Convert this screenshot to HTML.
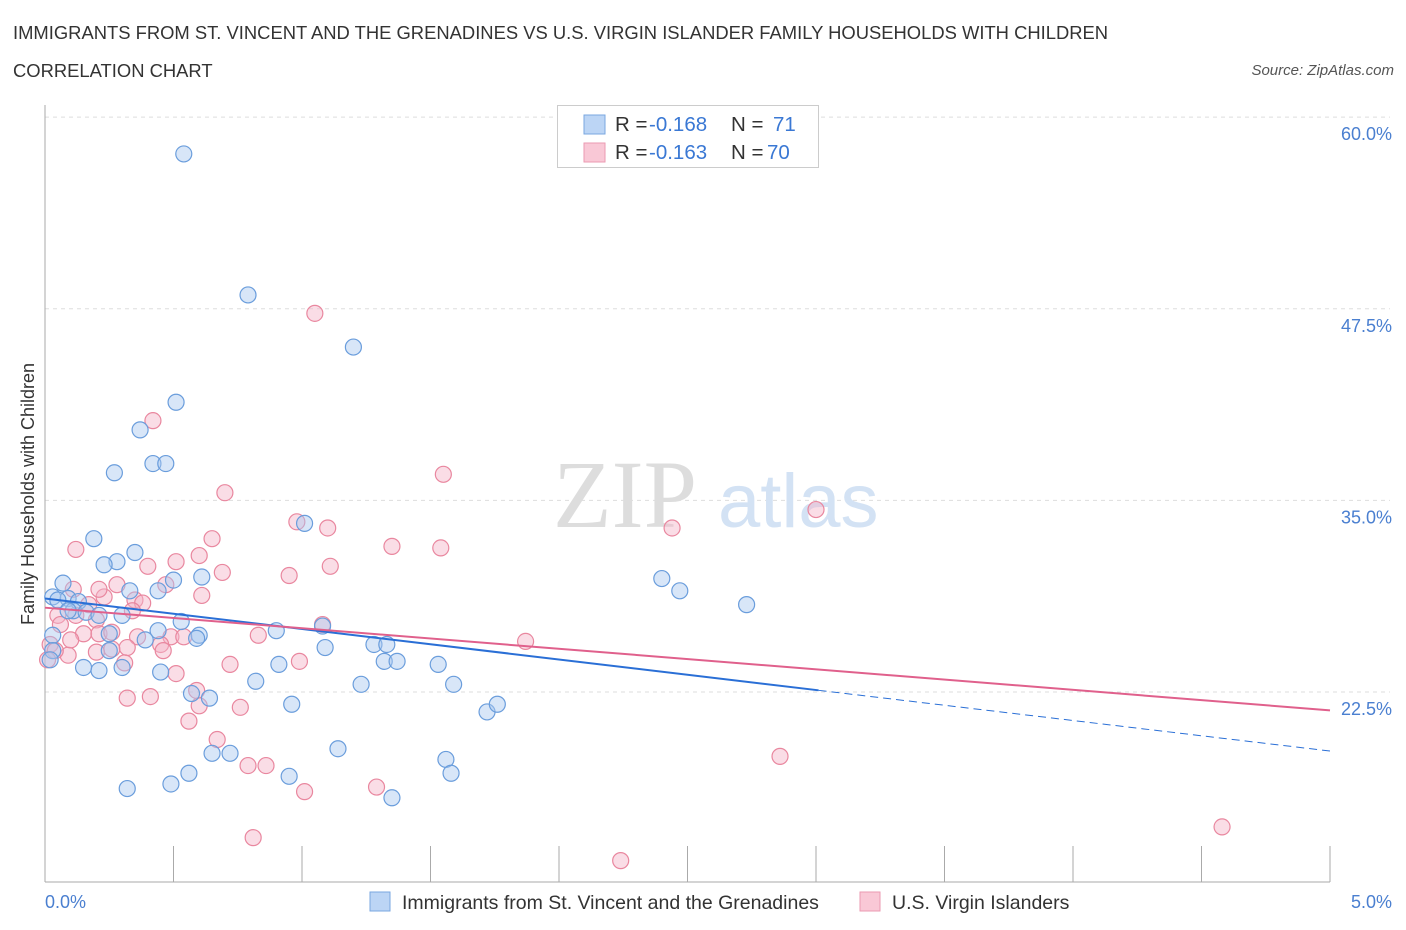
<!DOCTYPE html>
<html><head><meta charset="utf-8">
<style>
body{margin:0;background:#fff;font-family:"Liberation Sans",sans-serif;}
#wrap{position:relative;width:1406px;height:930px;overflow:hidden;}
.t{position:absolute;white-space:nowrap;}
</style></head>
<body>
<div id="wrap">
<div class="t" style="left:13px;top:22px;font-size:18.4px;color:#333;">IMMIGRANTS FROM ST. VINCENT AND THE GRENADINES VS U.S. VIRGIN ISLANDER FAMILY HOUSEHOLDS WITH CHILDREN</div>
<div class="t" style="left:13px;top:60px;font-size:18.4px;color:#333;">CORRELATION CHART</div>
<div class="t" style="right:12px;top:62px;font-size:15px;color:#555;font-style:italic;">Source: ZipAtlas.com</div>
<svg id="chart" width="1406" height="930" style="position:absolute;left:0;top:0"></svg>
</div>
<script>
const blueX=[0.54,0.79,1.20,0.51,0.37,0.27,0.42,0.47,0.19,0.35,0.28,0.23,0.07,0.50,0.61,0.33,0.44,1.01,0.03,0.09,0.13,0.11,0.16,0.30,0.53,0.60,0.44,0.25,0.39,0.59,0.90,1.08,1.09,1.28,1.33,1.32,1.37,1.53,0.91,0.30,0.45,0.21,0.15,0.82,1.23,1.59,0.64,0.57,0.96,1.72,1.76,2.40,2.47,2.73,0.72,0.65,1.14,1.56,1.58,0.56,0.95,1.35,0.32,0.49,0.03,0.03,0.02,0.05,0.25,0.09,0.21];
const blueY=[57.6,48.4,45.0,41.4,39.6,36.8,37.4,37.4,32.5,31.6,31.0,30.8,29.6,29.8,30.0,29.1,29.1,33.5,28.7,28.6,28.4,27.8,27.7,27.5,27.1,26.2,26.5,26.3,25.9,26.0,26.5,26.8,25.4,25.6,25.6,24.5,24.5,24.3,24.3,24.1,23.8,23.9,24.1,23.2,23.0,23.0,22.1,22.4,21.7,21.2,21.7,29.9,29.1,28.2,18.5,18.5,18.8,18.1,17.2,17.2,17.0,15.6,16.2,16.5,26.2,25.2,24.6,28.5,25.2,27.8,27.5];
const pinkX=[1.05,0.42,1.55,0.70,0.98,1.10,1.35,1.54,2.44,3.00,0.12,0.65,0.60,0.51,0.40,1.11,0.69,0.95,0.28,0.47,0.11,0.23,0.35,0.38,0.61,0.34,0.05,0.12,0.20,1.08,0.15,0.21,0.26,0.36,0.49,0.54,0.83,1.87,0.02,0.45,0.32,0.26,0.46,0.20,0.09,0.31,0.99,0.72,0.51,0.59,0.60,0.76,0.32,0.41,0.56,0.67,0.79,0.86,1.01,1.29,2.86,0.81,2.24,4.58,0.04,0.01,0.06,0.17,0.10,0.21];
const pinkY=[47.2,40.2,36.7,35.5,33.6,33.2,32.0,31.9,33.2,34.4,31.8,32.5,31.4,31.0,30.7,30.7,30.3,30.1,29.5,29.5,29.2,28.7,28.5,28.3,28.8,27.8,27.5,27.5,27.2,26.9,26.3,26.3,26.4,26.1,26.1,26.1,26.2,25.8,25.6,25.6,25.4,25.3,25.2,25.1,24.9,24.4,24.5,24.3,23.7,22.6,21.6,21.5,22.1,22.2,20.6,19.4,17.7,17.7,16.0,16.3,18.3,13.0,11.5,13.7,25.2,24.6,26.9,28.2,25.9,29.2];
const yTicks=[22.5,35.0,47.5,60.0];
const yTickLabels=["22.5%","35.0%","47.5%","60.0%"];
const blueTrend=[28.6,-1.99];
const pinkTrend=[28.0,-1.34];

const NS="http://www.w3.org/2000/svg";
const svg=document.getElementById('chart');
const X0=45,X1=1330,YB=692,YPER=15.33;
const sx=v=>X0+v*(X1-X0)/5;
const sy=v=>YB-(v-22.5)*YPER;
function mk(tag,attrs,parent){const e=document.createElementNS(NS,tag);for(const k in attrs)e.setAttribute(k,attrs[k]);(parent||svg).appendChild(e);return e;}
const FF='Liberation Sans, sans-serif';

yTicks.forEach((v,i)=>{
  const g=mk('line',{x1:X0,x2:1390,y1:sy(v),y2:sy(v),stroke:'#ddd','stroke-dasharray':'4,4'});
  
  
  const t=mk('text',{x:1392,y:sy(v)+23,'text-anchor':'end','font-size':18,fill:'#4a7fd0','font-family':FF});
  t.textContent=yTickLabels[i];
  
  
});
const ax=mk('line',{x1:X0,x2:X0,y1:105,y2:882,stroke:'#aaa'});


const axx=mk('line',{x1:X0,x2:X1,y1:882,y2:882,stroke:'#aaa'});


for(let i=0;i<=10;i++){
  const tk=mk('line',{x1:sx(i*0.5),x2:sx(i*0.5),y1:846,y2:882,stroke:'#aaa'});
  
  
}
const wm=mk('text',{x:553,y:527,'font-size':96,fill:'#ddd','font-family':'Liberation Serif, serif'});
wm.textContent='ZIP';


const wm2=mk('text',{x:718,y:527,'font-size':76,fill:'#d3e2f4','font-family':FF});
wm2.textContent='atlas';



function pts(xs,ys,fill,stroke,name){
  xs.forEach((x,i)=>{
    const c=mk('circle',{cx:sx(x),cy:sy(ys[i]),r:8,fill:fill,'fill-opacity':0.45,stroke:stroke,'stroke-width':1.2});
    
    
  });
}
pts(pinkX,pinkY,'#f5b3c7','#e9879f','pink-point');
pts(blueX,blueY,'#a9c8f0','#6a9ddc','blue-point');

const bl=mk('line',{x1:sx(0),y1:sy(blueTrend[0]),x2:sx(3.01),y2:sy(blueTrend[0]+blueTrend[1]*3.01),stroke:'#2a6fd6','stroke-width':2});


const bd=mk('line',{x1:sx(3.01),y1:sy(blueTrend[0]+blueTrend[1]*3.01),x2:sx(5),y2:sy(blueTrend[0]+blueTrend[1]*5),stroke:'#2a6fd6','stroke-width':1,'stroke-dasharray':'8,5'});


const pl=mk('line',{x1:sx(0),y1:sy(pinkTrend[0]),x2:sx(5),y2:sy(pinkTrend[0]+pinkTrend[1]*5),stroke:'#e0608c','stroke-width':2});



[[0,'0.0%','start',45],[5,'5.0%','end',1392]].forEach(a=>{
  const t=mk('text',{x:a[3],y:908,'text-anchor':a[2],'font-size':18,fill:'#4a7fd0','font-family':FF});
  t.textContent=a[1];
  
  
});
const yt=mk('text',{x:0,y:0,transform:'translate(34,494) rotate(-90)','text-anchor':'middle','font-size':18,fill:'#333','font-family':FF});
yt.textContent='Family Households with Children';



const lg=mk('rect',{x:557.5,y:105.5,width:261,height:62,fill:'#fff',stroke:'#ccc'});


[['#bcd5f5','#7aa7e0','-0.168','71',115,773],['#f9c8d6','#eb9ab2','-0.163','70',143,767]].forEach(r=>{
  const s=mk('rect',{x:584,y:r[4],width:21,height:19,fill:r[0],stroke:r[1]});
  
  
  const parts=[[615,'R =','#333'],[649,r[2],'#3a78d4'],[731,'N =','#333'],[r[5],r[3],'#3a78d4']];
  parts.forEach(p=>{
    const t=mk('text',{x:p[0],y:r[4]+16,'font-size':20.5,fill:p[2],'font-family':FF});
    t.textContent=p[1];
    
    
  });
});
[['#bcd5f5','#7aa7e0',370,'Immigrants from St. Vincent and the Grenadines'],['#f9c8d6','#eb9ab2',860,'U.S. Virgin Islanders']].forEach(r=>{
  const s=mk('rect',{x:r[2],y:892,width:20,height:19,fill:r[0],stroke:r[1]});
  
  
  const t=mk('text',{x:r[2]+32,y:909,'font-size':19.5,fill:'#333','font-family':FF});
  t.textContent=r[3];
  
  
});
</script>
</body></html>
